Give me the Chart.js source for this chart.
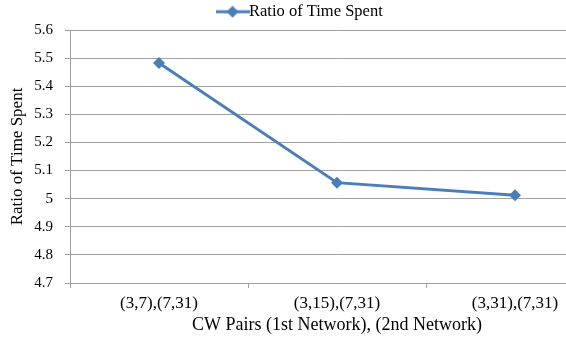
<!DOCTYPE html>
<html>
<head>
<meta charset="utf-8">
<script src="https://cdn.jsdelivr.net/npm/chart.js@4"></script>
<style>
    html, body { margin: 0; padding: 0; background: #fff; overflow: hidden; }
    #wrap { width: 610px; height: 343px; }
</style>
</head>
<body>
<div id="wrap"><canvas id="ratioChart" width="610" height="343"></canvas></div>
<script>
// Chart data
const cwPairs = ['(3,7),(7,31)', '(3,15),(7,31)', '(3,31),(7,31)'];
const ratioValues = [5.483, 5.057, 5.012];
const yTicks = [4.7, 4.8, 4.9, 5.0, 5.1, 5.2, 5.3, 5.4, 5.5, 5.6];

const seriesColor = '#4a7ebb';
const gridColor = '#a0a0a0';
const serif = "'Liberation Serif', 'DejaVu Serif', serif";

// Legend symbol: short line with a diamond in the middle (Excel style)
function makeLegendSymbol() {
    const c = document.createElement('canvas');
    c.width = 34;
    c.height = 14;
    const ctx = c.getContext('2d');
    ctx.strokeStyle = seriesColor;
    ctx.lineWidth = 3;
    ctx.beginPath();
    ctx.moveTo(0, 7);
    ctx.lineTo(34, 7);
    ctx.stroke();
    ctx.fillStyle = seriesColor;
    ctx.beginPath();
    ctx.moveTo(17, 1);
    ctx.lineTo(23, 7);
    ctx.lineTo(17, 13);
    ctx.lineTo(11, 7);
    ctx.closePath();
    ctx.fill();
    return c;
}

document.addEventListener('DOMContentLoaded', function() {
    const legendSymbol = makeLegendSymbol();
    const ctx = document.getElementById('ratioChart').getContext('2d');

    new Chart(ctx, {
        type: 'line',
        data: {
            labels: cwPairs,
            datasets: [{
                label: 'Ratio of Time Spent',
                data: ratioValues,
                borderColor: seriesColor,
                backgroundColor: seriesColor,
                borderWidth: 3,
                pointStyle: 'rectRot',
                pointRadius: 6,
                pointBorderWidth: 0,
                tension: 0
            }]
        },
        options: {
            responsive: false,
            animation: false,
            layout: { padding: { top: 0, right: 3, left: 0, bottom: 0 } },
            plugins: {
                tooltip: { enabled: false },
                legend: {
                    position: 'top',
                    labels: {
                        color: '#000',
                        font: { family: serif, size: 16.5 },
                        usePointStyle: true,
                        padding: 3.5,
                        generateLabels: function(chart) {
                            const items = Chart.defaults.plugins.legend.labels.generateLabels(chart);
                            items.forEach(item => { item.pointStyle = legendSymbol; });
                            return items;
                        }
                    }
                }
            },
            scales: {
                x: {
                    offset: true,
                    grid: {
                        offset: true,
                        drawOnChartArea: false,
                        drawTicks: true,
                        tickLength: 5,
                        color: gridColor
                    },
                    border: { color: gridColor },
                    ticks: {
                        color: '#000',
                        font: { family: serif, size: 17 },
                        padding: 5,
                        maxRotation: 0
                    },
                    title: {
                        display: true,
                        text: 'CW Pairs (1st Network), (2nd Network)',
                        color: '#000',
                        font: { family: serif, size: 18 },
                        padding: { top: 0, bottom: 7 }
                    },
                    afterFit: function(scale) { scale.height = 60; }
                },
                y: {
                    min: yTicks[0],
                    max: yTicks[yTicks.length - 1],
                    afterBuildTicks: function(scale) {
                        scale.ticks = yTicks.map(v => ({ value: v }));
                    },
                    grid: {
                        color: gridColor,
                        tickLength: 5
                    },
                    border: { color: gridColor },
                    ticks: {
                        color: '#000',
                        font: { family: serif, size: 15 },
                        padding: 12,
                        callback: v => String(Number(v.toFixed(1)))
                    },
                    title: {
                        display: true,
                        text: 'Ratio of Time Spent',
                        color: '#000',
                        font: { family: serif, size: 17 },
                        padding: { top: 7, bottom: 4 }
                    },
                    afterFit: function(scale) { scale.width = 70; }
                }
            }
        }
    });
});
</script>
</body>
</html>
